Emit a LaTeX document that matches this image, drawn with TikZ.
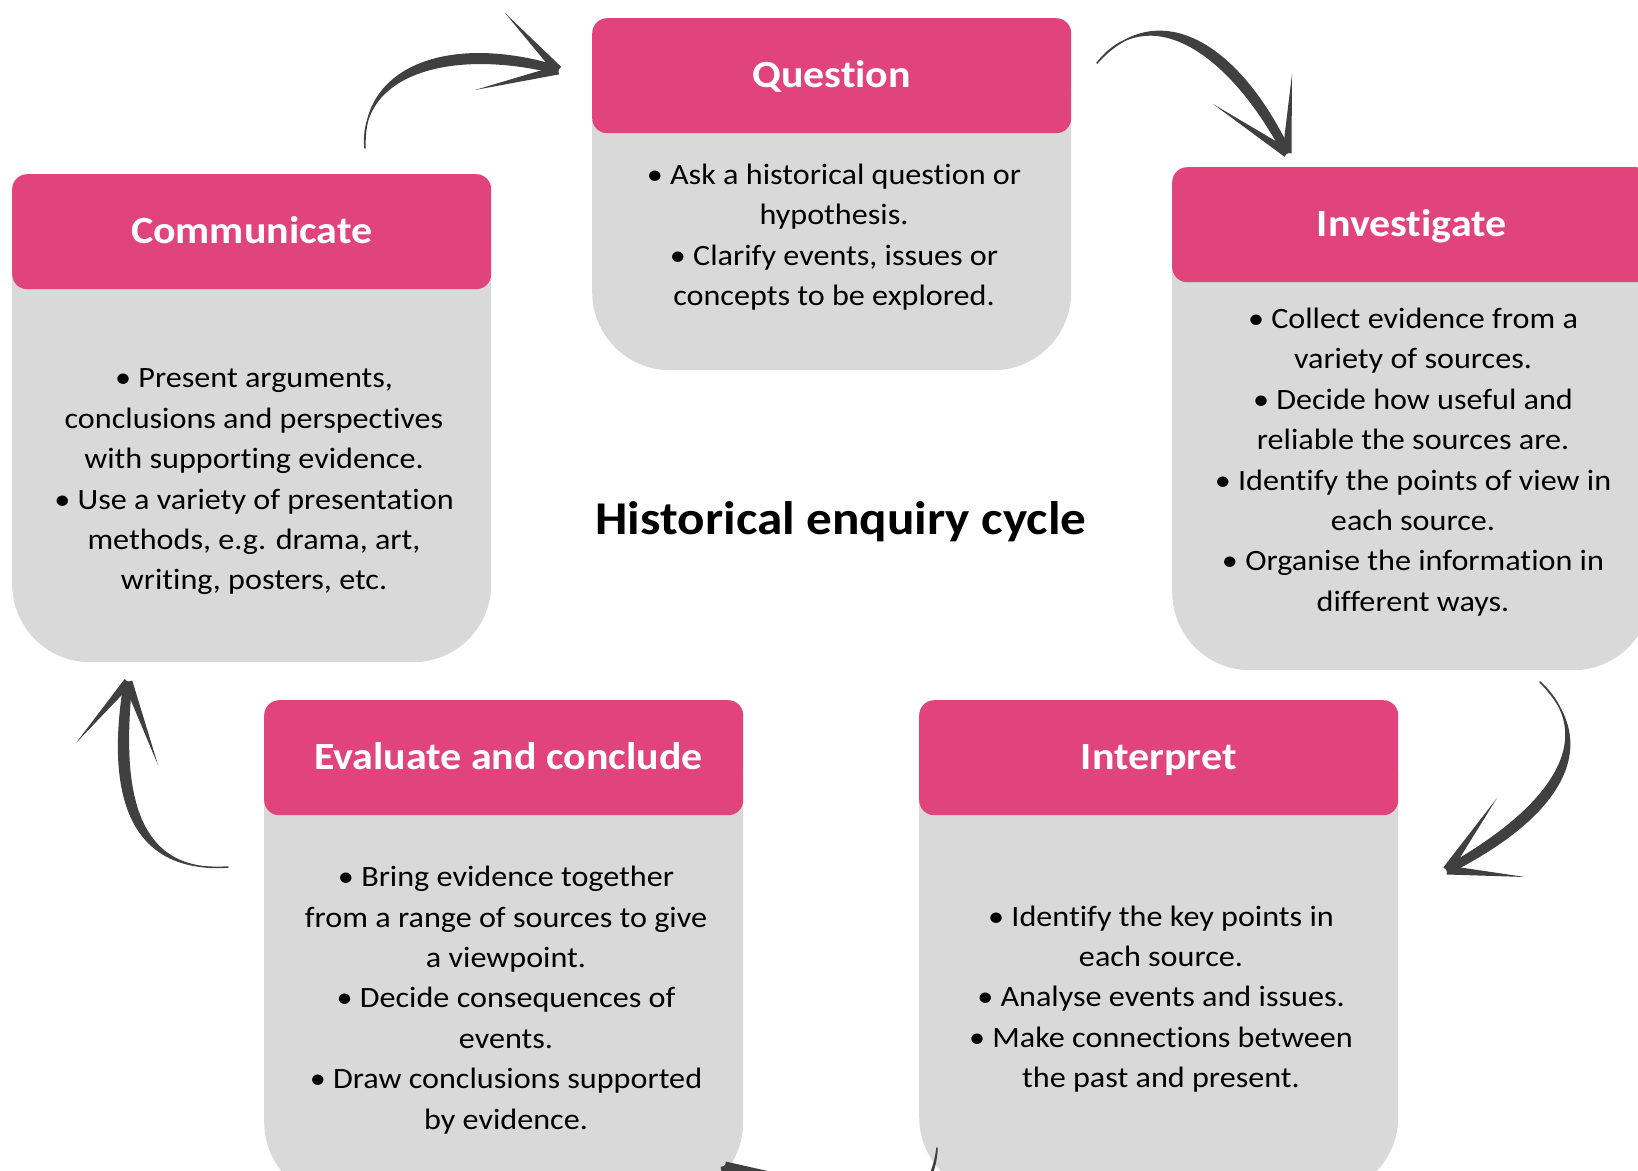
\documentclass[tikz,border=0pt]{standalone}
\usepackage{fontspec}
\setmainfont{Carlito}[FakeStretch=1.09, Ligatures=NoCommon]
\usetikzlibrary{calc}
\definecolor{headpink}{RGB}{224,68,122}
\definecolor{bodygray}{RGB}{217,217,217}
\definecolor{arrowgray}{RGB}{64,64,64}
\tikzset{
  bodybox/.style={fill=bodygray, rounded corners=78pt, minimum width=479pt, inner sep=0pt, anchor=north west},
  headbox/.style={fill=headpink, rounded corners=15pt, minimum width=479pt, minimum height=115pt,
    inner sep=0pt, anchor=north west, text=white, text height=27pt, text depth=4pt,
    font=\fontsize{38.5}{46}\selectfont\bfseries},
  bodytext/.style={align=center, inner sep=0pt, font=\fontsize{29.5}{40.4}\selectfont},
  brush/.style={fill=arrowgray, draw=arrowgray, line width=1.5pt, line join=round},
}
% one stage: name, left, top, bottom, title
\newcommand\drawStage[5]{
\node[bodybox, minimum height={#4-#3}] (#1-body) at (#2,#3) {};
\node[headbox] (#1-head) at (#2,#3) {#5};
}
% one brush arrow: name, tail, control 1, control 2, tip, barb 1, barb 2
\newcommand\drawBrushArrow[7]{
\coordinate (#1-tail) at (#2);
\coordinate (#1-tip) at (#5);
\coordinate (#1-b1) at (#6);
\coordinate (#1-b2) at (#7);
\coordinate (#1-ta) at ($(#1-tip)!3.5pt!90:(#4)$);
\coordinate (#1-tb) at ($(#1-tip)!3.5pt!-90:(#4)$);
\path[brush] (#1-tail) .. controls ($(#3)+1.6*(#1-ta)-1.6*(#1-tip)$) and ($(#4)+1.8*(#1-ta)-1.8*(#1-tip)$) .. (#1-ta)
  -- (#1-tb) .. controls ($(#4)+1.8*(#1-tb)-1.8*(#1-tip)$) and ($(#3)+1.6*(#1-tb)-1.6*(#1-tip)$) .. (#1-tail) -- cycle;
\fill[arrowgray] ($(#1-tip)!4.5pt!90:(#1-b1)$) -- (#1-b1) -- ($(#1-tip)!4.5pt!-90:(#1-b1)$) -- cycle;
\fill[arrowgray] ($(#1-tip)!4.5pt!90:(#1-b2)$) -- (#1-b2) -- ($(#1-tip)!4.5pt!-90:(#1-b2)$) -- cycle;
}

\begin{document}
\begin{tikzpicture}[x=1pt, y=-1pt]
\useasboundingbox (0,0) rectangle (1638,1170);
\clip (0,0) rectangle (1638,1170);

\drawStage{q}{592}{18}{370}{Question}
\drawStage{c}{12}{174}{662}{Communicate}
\drawStage{i}{1172}{167}{670}{Investigate}
\drawStage{e}{264}{700}{1200}{\ Evaluate and conclude}
\drawStage{p}{919}{700}{1195}{Interpret}

\node[bodytext] (q-text) at (834,237) {• Ask a historical question or\\hypothesis.\\• Clarify events, issues or\\concepts to be explored.};
\node[bodytext] (c-text) at (254,482) {• Present arguments,\\conclusions and perspectives\\with supporting evidence.\\• Use a variety of presentation\\methods, e.g. drama, art,\\writing, posters, etc.};
\node[bodytext] (i-text) at (1413,462) {• Collect evidence from a\\variety of sources.\\• Decide how useful and\\reliable the sources are.\\• Identify the points of view in\\each source.\\• Organise the information in\\different ways.};
\node[bodytext] (e-text) at (506,1000) {• Bring evidence together\\from a range of sources to give\\a viewpoint.\\• Decide consequences of\\events.\\• Draw conclusions supported\\by evidence.};
\node[bodytext] (p-text) at (1161,999) {• Identify the key points in\\each source.\\• Analyse events and issues.\\• Make connections between\\the past and present.};

\node[font=\fontsize{47}{56}\selectfont\bfseries] (title) at (841,522) {Historical enquiry cycle};

\drawBrushArrow{cq}{365,148}{360,70}{450,40}{558,70}{505,13}{475,90}
\drawBrushArrow{qi}{1097,63}{1150,0}{1230,40}{1287,153}{1292,74}{1213,104}
\drawBrushArrow{ip}{1540,682}{1600,740}{1560,810}{1447,870}{1497,798}{1525,877}
\drawBrushArrow{pe}{937,1148}{930,1240}{800,1250}{725,1166}{830,1185}{740,1260}
\drawBrushArrow{ec}{228,867}{115,875}{118,760}{128,682}{76,743}{158,765}
\end{tikzpicture}
\end{document}
